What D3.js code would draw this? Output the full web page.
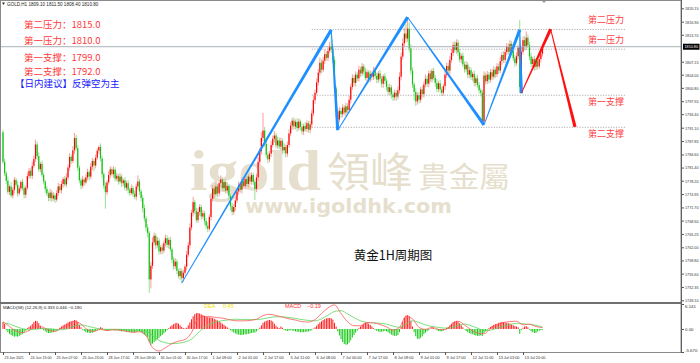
<!DOCTYPE html>
<html>
<head>
<meta charset="utf-8">
<script src="https://cdn.jsdelivr.net/npm/d3@7"></script>
<style>
html, body { margin: 0; padding: 0; background: #fff; }
svg { display: block; }
</style>
</head>
<body>
<div class="graph"></div>
<script>

//chart data (GOLD H1)

var firstOpen = 1790.0;

var closes = [
1782.8,1780.0,1778.2,1775.5,1776.8,1774.6,1776.0,1778.4,1777.2,1775.1,
1776.3,1777.9,1776.4,1774.8,1776.5,1779.3,1780.6,1779.4,1781.8,1783.5,
1787.0,1784.2,1781.0,1782.3,1779.6,1778.0,1776.2,1775.1,1774.0,1775.3,
1773.9,1774.6,1773.6,1775.2,1776.8,1775.9,1777.4,1778.6,1777.3,1779.0,
1781.4,1784.0,1783.0,1785.6,1788.6,1786.1,1781.4,1778.3,1777.0,1778.5,
1777.8,1779.0,1780.3,1779.2,1781.6,1783.0,1781.9,1783.8,1785.5,1786.4,
1783.6,1779.8,1777.0,1775.4,1777.8,1779.6,1781.0,1779.8,1780.9,1778.7,
1779.4,1778.0,1779.2,1777.6,1778.3,1776.5,1777.6,1776.0,1775.2,1776.4,
1775.0,1774.3,1776.8,1778.0,1775.6,1774.0,1771.5,1769.0,1766.8,1765.5,
1754.2,1757.5,1763.2,1764.8,1762.5,1763.6,1761.0,1762.0,1761.2,1763.0,
1764.2,1762.6,1763.8,1761.5,1759.0,1757.4,1758.5,1756.3,1755.0,1756.2,
1754.5,1755.8,1757.3,1760.2,1762.5,1766.8,1770.4,1773.0,1770.8,1768.6,
1770.6,1771.8,1769.5,1770.3,1768.4,1767.2,1766.5,1769.4,1773.8,1776.3,
1774.9,1776.8,1775.1,1777.6,1778.5,1776.4,1777.9,1775.8,1776.9,1774.5,
1772.0,1770.6,1771.8,1773.4,1775.6,1777.2,1776.0,1778.1,1776.9,1778.6,
1777.4,1779.2,1778.0,1779.6,1777.9,1776.2,1779.0,1782.8,1785.4,1788.6,
1790.4,1787.2,1784.5,1783.4,1784.8,1786.9,1788.4,1789.2,1786.8,1788.0,
1786.5,1787.9,1785.6,1786.4,1784.8,1786.9,1789.7,1791.6,1792.8,1791.4,
1792.5,1791.0,1792.6,1791.3,1790.2,1791.5,1790.8,1792.2,1790.6,1791.9,
1794.6,1797.8,1799.6,1802.1,1804.5,1806.9,1805.2,1807.4,1809.0,1808.1,
1809.8,1811.0,1810.2,1807.6,1800.6,1795.0,1793.1,1795.2,1794.4,1796.0,
1794.8,1796.3,1795.4,1797.9,1801.0,1803.2,1802.0,1804.0,1803.1,1805.2,
1804.3,1806.0,1804.8,1803.2,1804.6,1802.9,1804.2,1803.5,1805.0,1803.7,
1802.8,1804.3,1803.0,1801.8,1803.6,1802.5,1801.0,1799.8,1800.9,1799.2,
1798.5,1799.6,1798.7,1800.2,1803.5,1808.4,1811.6,1814.0,1812.8,1815.2,
1810.4,1805.0,1801.6,1799.8,1797.5,1799.0,1797.9,1800.4,1799.3,1801.6,
1803.0,1801.8,1804.3,1802.9,1804.9,1803.2,1802.0,1800.5,1801.9,1800.4,
1799.6,1801.2,1804.0,1806.1,1805.0,1807.6,1809.3,1811.2,1810.0,1811.8,
1809.4,1807.7,1808.6,1806.5,1805.3,1806.4,1804.0,1805.1,1803.4,1804.2,
1802.0,1803.1,1801.5,1800.2,1799.6,1792.6,1803.8,1802.4,1804.0,1802.8,
1804.6,1803.5,1805.2,1804.1,1806.0,1805.0,1807.3,1808.8,1807.6,1809.5,
1810.8,1809.6,1811.5,1809.8,1808.0,1806.8,1808.5,1810.6,1801.0,1809.6,
1812.4,1810.8,1813.0,1811.2,1808.4,1806.6,1807.8,1805.9,1807.3,1806.0,
1807.8,1809.1,1810.8
];

var wickUp = [
0.6,0.8,0.5,0.9,0.4,1.1,0.6,0.7,0.5,0.9,
0.7,0.4,0.8,0.6,0.5,0.9,0.7,0.6,1.0,0.8,
1.2,0.7,0.9,0.5,0.8,0.6,0.4,0.7,0.5,0.9,
0.6,0.8,0.5,0.7,0.9,0.6,0.8,0.5,0.7,1.0,
0.8,0.9,0.6,1.0,1.2,0.7,0.8,0.5,0.6,0.9,
0.5,0.7,0.8,0.6,0.9,0.7,0.5,0.8,0.6,0.4,
0.9,0.7,0.5,0.8,0.6,0.9,0.7,0.5,0.8,0.6,
0.7,0.5,0.9,0.6,0.4,0.8,0.6,0.7,0.5,0.9,
0.6,0.8,0.7,1.5,0.6,0.5,0.7,0.9,0.6,0.8,
0.5,0.9,1.2,0.8,0.6,0.9,0.7,0.5,0.8,0.6,
0.9,0.7,0.6,0.8,0.5,0.7,0.9,0.6,0.5,0.8,
0.6,0.7,0.5,0.9,0.8,1.0,0.7,1.3,0.6,0.8,
0.9,0.7,0.6,0.8,0.5,0.7,0.9,0.6,1.0,0.8,
0.7,0.9,0.6,0.8,1.0,0.5,0.7,0.6,0.9,0.5,
0.6,0.8,0.7,0.9,0.5,0.8,0.6,0.9,0.7,0.6,
0.8,0.6,0.9,0.7,0.5,0.6,0.9,1.1,0.8,1.4,
4.3,0.9,0.7,0.8,0.6,1.0,0.8,1.1,0.6,0.9,
0.7,0.8,0.6,0.9,0.5,0.8,1.0,0.9,0.7,0.8,
0.6,0.9,0.7,0.5,0.8,0.6,0.9,0.7,0.5,0.8,
0.9,1.2,0.8,1.0,0.9,1.3,0.8,0.9,1.1,0.7,
0.9,1.0,2.4,0.8,0.9,0.7,0.6,0.9,0.7,0.8,
0.6,0.9,0.7,1.0,0.8,0.9,0.7,0.8,0.6,1.0,
0.7,0.8,0.6,0.9,0.7,0.5,0.8,0.6,0.9,0.7,
0.8,0.6,0.9,0.7,0.5,0.8,0.6,0.7,0.9,0.6,
0.7,0.8,0.6,0.9,1.1,1.0,1.2,1.4,2.4,2.8,
1.5,1.0,0.8,0.6,0.9,0.7,0.8,0.6,0.9,0.7,
1.0,0.8,0.7,0.9,0.6,0.8,0.7,0.9,0.6,0.8,
0.7,0.6,0.9,0.8,0.7,0.9,1.0,0.8,0.9,0.8,
0.7,0.9,0.6,0.8,0.7,0.9,0.6,0.8,0.7,0.5,
0.8,0.6,0.9,0.7,0.5,0.8,1.0,0.7,0.9,0.6,
0.8,0.7,0.9,0.6,0.8,0.7,1.0,0.8,0.9,0.7,
0.9,0.8,1.0,0.7,0.6,0.8,0.9,0.7,6.7,1.2,
0.9,1.0,1.5,0.8,0.7,0.9,0.6,0.8,0.7,0.9,
0.8,0.6,0.7
];

var wickDn = [
0.5,0.7,0.9,0.6,0.8,0.5,0.7,0.9,0.6,0.8,
0.5,0.7,0.6,0.9,0.8,0.5,0.7,0.6,0.8,0.5,
0.7,0.9,0.6,0.8,0.5,0.7,0.9,0.6,0.8,0.7,
0.9,0.6,0.8,0.5,0.7,0.6,0.8,0.9,0.5,0.7,
0.6,0.8,0.7,0.5,0.9,0.6,0.8,0.7,0.9,0.6,
0.8,0.5,0.7,0.9,0.6,0.8,1.4,0.7,0.5,0.8,
0.7,0.9,0.8,4.0,0.7,0.6,0.8,0.5,0.9,0.7,
0.6,0.8,0.5,0.9,0.7,0.6,0.8,0.9,0.7,0.5,
0.8,0.6,0.9,0.7,0.8,0.9,1.0,0.8,0.9,1.1,
3.3,2.2,0.8,0.7,0.9,0.6,0.8,0.7,0.9,0.6,
0.8,0.7,0.9,0.6,0.8,0.9,0.7,0.8,0.6,0.9,
1.2,0.8,0.7,0.9,0.6,0.8,0.7,0.9,0.8,0.6,
0.7,0.9,0.8,0.6,0.9,0.7,0.8,0.6,0.9,0.7,
0.8,0.6,0.9,0.7,0.8,0.6,0.9,0.7,0.8,0.9,
1.0,0.8,0.7,0.9,0.6,0.8,0.7,0.9,0.6,0.8,
0.7,0.9,0.6,0.8,0.7,2.7,0.8,0.9,0.7,0.8,
0.9,0.7,0.8,1.0,0.7,0.8,0.6,0.9,0.7,0.8,
0.6,0.9,0.8,0.7,1.0,0.8,0.6,0.7,0.9,0.8,
0.7,0.9,0.6,0.8,0.7,0.9,0.6,0.8,0.7,0.9,
0.8,0.7,0.9,0.6,0.8,0.7,0.9,0.6,0.8,0.7,
0.8,0.6,0.9,0.8,1.0,1.2,1.3,0.7,0.9,0.8,
0.7,0.9,0.8,0.6,0.9,0.7,0.8,0.9,0.7,0.8,
0.9,0.7,0.8,0.6,0.9,0.8,0.7,0.9,0.8,0.7,
0.9,0.8,0.7,0.9,1.0,0.8,0.9,0.7,0.8,1.0,
0.9,0.8,1.0,0.7,0.8,0.9,0.7,0.8,0.9,0.8,
1.0,0.9,0.8,2.0,1.1,0.8,0.9,0.7,0.8,0.9,
0.7,0.8,0.9,0.7,0.8,0.6,0.9,0.8,0.7,0.9,
0.8,0.7,0.9,0.8,0.6,0.9,0.7,0.8,0.6,0.9,
0.8,0.7,0.9,0.6,0.8,0.7,0.9,0.8,0.7,0.9,
0.8,0.9,0.7,0.8,0.9,1.0,0.6,0.8,0.7,0.9,
0.7,0.8,0.6,0.9,0.7,0.8,0.6,0.9,0.7,0.8,
0.8,0.7,0.9,0.8,0.7,0.9,0.6,0.8,1.4,0.8,
0.7,0.9,0.8,0.7,0.9,0.8,0.7,0.9,0.8,0.7,
0.6,0.8,0.7
];

// MACD histogram, one value per bar
var histVals = [
1.7,1.2,-0.3,-0.8,-1.2,-1.5,-1.7,-1.9,-1.8,-1.9,
-1.7,-1.5,-1.2,-0.8,-0.4,0.2,0.5,0.8,1.2,1.7,
2.0,1.9,1.4,0.8,0.2,-0.3,-0.6,-0.9,-1.0,-1.0,
-0.9,-0.8,-0.6,-0.4,-0.1,0.3,0.6,0.9,1.1,1.3,
1.6,1.8,1.9,2.0,2.2,2.1,1.7,1.0,0.4,-0.2,
-0.5,-0.8,-0.9,-1.0,-1.0,-0.9,-0.7,-0.5,-0.3,0.1,
0.4,0.3,-0.1,-0.4,-0.5,-0.4,-0.3,-0.2,-0.3,-0.4,
-0.3,-0.4,-0.5,-0.6,-0.5,-0.6,-0.7,-0.7,-0.8,-0.8,
-0.9,-0.9,-0.7,-0.5,-0.6,-0.8,-1.1,-1.4,-1.7,-2.0,
-3.2,-3.9,-3.6,-3.2,-2.9,-2.5,-2.2,-1.8,-1.5,-1.1,
-0.7,-0.3,0.2,0.6,0.9,1.2,1.4,1.5,1.3,0.9,
0.5,0.2,0.1,0.3,0.9,1.6,2.4,3.1,3.6,3.9,
3.9,3.8,3.6,3.4,3.2,3.0,2.9,2.8,2.8,2.7,
2.5,2.3,2.1,1.9,1.6,1.3,1.0,0.7,0.4,0.1,
-0.3,-0.6,-0.9,-1.1,-1.3,-1.4,-1.5,-1.5,-1.4,-1.3,
-1.3,-1.2,-1.1,-1.0,-0.9,-0.9,-0.6,-0.2,0.3,0.9,
1.5,1.8,2.0,2.1,2.2,2.1,1.8,1.3,0.8,0.4,
0.2,0.6,0.3,-0.2,-0.4,-0.5,-0.4,-0.3,-0.4,-0.5,
-0.6,-0.7,-0.7,-0.8,-0.8,-0.8,-0.7,-0.7,-0.6,-0.5,
-0.3,0.1,0.4,0.8,1.2,1.6,1.9,2.2,2.4,2.6,
2.7,2.7,2.6,2.3,1.5,0.6,-0.6,-1.6,-2.5,-3.2,
-3.7,-3.9,-3.8,-3.4,-2.8,-2.1,-1.5,-0.9,-0.4,0.2,
0.6,1.0,1.3,1.5,1.5,1.3,1.0,0.6,0.2,-0.2,
-0.5,-0.6,-0.7,-0.7,-0.6,-0.5,-0.6,-0.8,-1.1,-1.4,
-1.6,-1.7,-1.7,-1.5,-0.8,0.6,1.8,2.8,3.3,3.4,
3.1,2.0,0.6,-0.8,-1.8,-2.4,-2.5,-2.2,-1.8,-1.3,
-0.9,-0.6,-0.3,0.1,0.3,0.2,-0.1,-0.3,-0.5,-0.6,
-0.6,-0.4,-0.1,0.3,0.5,0.9,1.3,1.7,1.9,2.0,
1.8,1.4,0.9,0.4,-0.1,-0.5,-0.8,-1.0,-1.2,-1.3,
-1.5,-1.6,-1.7,-1.7,-1.6,-1.7,-1.0,-0.6,-0.2,0.2,
0.5,0.8,1.0,1.2,1.3,1.5,1.6,1.7,1.7,1.6,
1.5,1.4,1.3,1.1,0.9,0.7,0.6,0.4,-1.2,-0.3,
0.3,0.6,0.7,0.4,-0.2,-0.6,-0.8,-1.0,-1.0,-0.6,
-0.4,-0.3,-0.19
];

// MACD lines, read every lineStep bars
var lineStep = 4;
var difVals = [
1.8,0.6,-0.5,-0.9,-0.4,0.6,0.5,-0.3,-0.6,0.2,
1.0,1.9,1.2,-0.2,-0.6,-0.1,-0.4,-0.2,-0.3,-0.6,
-0.8,-0.7,-1.6,-4.6,-5.4,-4.6,-3.6,-3.0,-2.6,-0.9,
2.6,3.1,3.0,2.8,2.6,2.2,2.0,2.0,2.1,2.4,
3.3,3.6,3.3,2.9,2.5,2.2,1.8,1.7,2.3,3.8,
5.2,5.9,3.8,1.8,0.8,0.8,1.6,1.5,1.1,0.5,
-0.3,0.4,3.1,2.5,0.4,-0.1,0.4,-0.1,-0.2,1.0,
1.9,1.0,-0.2,-1.0,-1.2,0.2,1.0,1.6,1.8,1.9,
1.0,1.2,0.6,0.333
];
var deaVals = [
1.5,1.2,0.6,0.1,-0.2,-0.1,0.1,0.1,-0.1,-0.2,
0.1,0.7,1.0,0.7,0.3,0.0,-0.1,-0.1,-0.1,-0.2,
-0.4,-0.5,-0.6,-1.6,-2.8,-3.4,-3.6,-3.5,-3.2,-2.5,
-1.0,0.4,1.3,1.8,2.1,2.3,2.4,2.3,2.3,2.3,
2.5,2.8,3.0,3.0,2.8,2.6,2.3,2.1,2.0,2.5,
3.4,4.3,4.5,3.7,2.8,2.0,1.6,1.5,1.4,1.2,
0.7,0.4,1.2,2.0,1.6,1.0,0.6,0.4,0.2,0.3,
0.9,1.2,0.8,0.2,-0.4,-0.3,0.2,0.7,1.1,1.4,
1.3,1.1,0.9,0.446
];

var priceTicks = [1820.15,1816.90,1813.70,1807.15,1804.00,1800.80,1797.55,1794.40,1791.10,
	1787.85,1784.60,1781.40,1778.20,1774.95,1771.70,1768.50,1765.25,1762.00,1758.80,
	1755.60,1752.35,1749.10];

var macdTicks = [6.141, 0, -5.67];
var macdTickLabels = ["6.141", "0.00", "-5.670"];

var timeStep = 16;
var timeLabels = ["23 Jun 2021","24 Jun 15:00","25 Jun 07:00","25 Jun 23:00","28 Jun 17:00",
	"29 Jun 09:00","30 Jun 01:00","30 Jun 17:00","1 Jul 09:00","2 Jul 01:00","2 Jul 17:00",
	"5 Jul 11:00","6 Jul 08:00","7 Jul 00:00","7 Jul 17:00","8 Jul 09:00","9 Jul 01:00",
	"9 Jul 17:00","12 Jul 11:00","13 Jul 03:00","13 Jul 20:00"];

var levelNames = ["第二压力", "第一压力", "第一支撑", "第二支撑"];
var levelTexts = ["1815.0", "1810.0", "1799.0", "1792.0"];
var levelLines = [1815.0, 1810.2, 1799.0, 1791.2];
var levelFrom = 190, levelTo = 383, levelLabelAt = 360;
var adviceText = "【日内建议】反弹空为主";
var chartTitle = "黄金1H周期图";

// zigzag drawings: [bar index, price]
var zigBlue = [[110,1753.3],[202,1814.9],[206,1790.5],[249,1818.0],[296,1791.8],[318,1814.9],[319,1799.5]];
var zigRed = [[319,1799.5],[337,1815.1],[352,1791.3]];

//prepare SVG

var svgWidth = 700;
var svgHeight = 363;
var axisLeft = 681;
var mainBottom = 302;
var macdTop = 304;
var macdBottom = 352;

var svg = d3.select("div.graph")
	.append("svg")
	.attr("width", svgWidth)
	.attr("height", svgHeight)
	.style("background-color", "#ffffff");

var x = d3.scaleLinear().domain([0, 320]).range([3, 523]);
var y = d3.scaleLinear().domain([1748.69, 1822.17]).range([mainBottom, 0]);
var ym = d3.scaleLinear().domain([-5.67, 6.141]).range([macdBottom, macdTop]);

svg.append("defs").append("clipPath").attr("id", "clipMain")
	.append("rect").attr("x", 0).attr("y", 0).attr("width", axisLeft).attr("height", mainBottom);

var bars = closes.map(function(c, i) {
	var o = i ? closes[i - 1] : firstOpen;
	return {i: i, o: o, c: c, h: Math.max(o, c) + wickUp[i], l: Math.min(o, c) - wickDn[i]};
});

//watermark

var gMark = svg.append("g").attr("fill", "#e6dfcd");
gMark.append("text").attr("x", 190).attr("y", 190)
	.attr("font-family", "Liberation Serif").attr("font-weight", "bold").attr("font-size", 56)
	.attr("textLength", 131).attr("lengthAdjust", "spacingAndGlyphs").text("igold");
gMark.append("text").attr("x", 327).attr("y", 187)
	.attr("font-family", "Noto Sans CJK TC").attr("font-size", 41)
	.attr("textLength", 86).attr("lengthAdjust", "spacingAndGlyphs").text("領峰");
gMark.append("text").attr("x", 418).attr("y", 188)
	.attr("font-family", "Noto Sans CJK TC").attr("font-size", 29)
	.attr("textLength", 92).attr("lengthAdjust", "spacingAndGlyphs").text("貴金屬");
gMark.append("text").attr("x", 245).attr("y", 213)
	.attr("font-family", "DejaVu Sans").attr("font-weight", "bold").attr("font-size", 19)
	.attr("textLength", 207).attr("lengthAdjust", "spacingAndGlyphs").text("www.igoldhk.com");

//candles

var gCandles = svg.append("g").attr("clip-path", "url(#clipMain)");

gCandles.selectAll("line.wick")
	.data(bars)
	.enter()
	.append("line")
	.attr("class", "wick")
	.attr("x1", function(d) { return x(d.i); })
	.attr("x2", function(d) { return x(d.i); })
	.attr("y1", function(d) { return y(d.h); })
	.attr("y2", function(d) { return y(d.l); })
	.attr("stroke", function(d) { return d.c >= d.o ? "#ff9c9c" : "#94e294"; })
	.attr("stroke-width", 1);

gCandles.selectAll("rect.body")
	.data(bars)
	.enter()
	.append("rect")
	.attr("class", "body")
	.attr("x", function(d) { return x(d.i) - 0.6; })
	.attr("width", 1.2)
	.attr("y", function(d) { return y(Math.max(d.o, d.c)); })
	.attr("height", function(d) { return Math.max(1, y(Math.min(d.o, d.c)) - y(Math.max(d.o, d.c))); })
	.attr("fill", function(d) { return d.c >= d.o ? "#ff0000" : "#10c010"; });

//current price line

var lastBar = bars[bars.length - 1];
svg.append("line")
	.attr("x1", 0).attr("x2", axisLeft)
	.attr("y1", y(lastBar.c)).attr("y2", y(lastBar.c))
	.attr("stroke", "#a8b0b8").attr("stroke-width", 1);

//levels

var gLevels = svg.append("g");
levelLines.forEach(function(p, k) {
	gLevels.append("line")
		.attr("x1", x(levelFrom)).attr("x2", x(levelTo))
		.attr("y1", y(p)).attr("y2", y(p))
		.attr("stroke", "#9a9a9a").attr("stroke-width", 0.8)
		.attr("stroke-dasharray", "1.2,1.4");
	gLevels.append("text")
		.attr("x", x(levelLabelAt))
		.attr("y", y(p) + (k < 2 ? -6 : 10))
		.attr("font-family", "Noto Sans CJK SC").attr("font-size", 9)
		.attr("fill", "#ff4040").text(levelNames[k]);
});

//zigzag arrows

function taper(p0, p1, w0, w1) {
	var dx = p1[0] - p0[0], dy = p1[1] - p0[1], len = Math.sqrt(dx * dx + dy * dy);
	var nx = -dy / len, ny = dx / len;
	return [[p0[0] + nx * w0 / 2, p0[1] + ny * w0 / 2], [p1[0] + nx * w1 / 2, p1[1] + ny * w1 / 2],
		[p1[0] - nx * w1 / 2, p1[1] - ny * w1 / 2], [p0[0] - nx * w0 / 2, p0[1] - ny * w0 / 2]];
}

function drawZig(pts, color) {
	for (var k = 0; k < pts.length - 1; k++) {
		var p0 = [x(pts[k][0]), y(pts[k][1])];
		var p1 = [x(pts[k + 1][0]), y(pts[k + 1][1])];
		svg.append("path")
			.attr("d", d3.line()(taper(p0, p1, 0.9, 3.2)) + "Z")
			.attr("fill", color);
	}
}
drawZig(zigBlue, "#1e8fff");
drawZig(zigRed, "#ff1010");

//text block

var gNote = svg.append("g").attr("font-family", "Noto Sans CJK SC").attr("font-size", 9.5);
var noteY = [27.5, 44, 60.5, 74.5];
levelNames.forEach(function(n, k) {
	gNote.append("text").attr("x", 24).attr("y", noteY[k])
		.attr("fill", "#ff3a3a").text(n + "：" + levelTexts[k]);
});
gNote.append("text").attr("x", 15).attr("y", 87).attr("fill", "#2020ff").text(adviceText);

svg.append("text").attr("x", 393).attr("y", 260).attr("text-anchor", "middle")
	.attr("font-family", "Noto Sans CJK SC").attr("font-size", 12.5).attr("fill", "#111")
	.text(chartTitle);

//header

var hdr = "GOLD,H1  " + [lastBar.o, lastBar.h, lastBar.l, lastBar.c].map(d3.format(".2f")).join(" ");
svg.append("path").attr("d", "M2,2.5L5,2.5L3.5,5Z").attr("fill", "#333");
svg.append("text").attr("x", 7).attr("y", 5.5)
	.attr("font-family", "Liberation Sans").attr("font-size", 4.6).attr("fill", "#222")
	.text(hdr);
svg.append("path").attr("d", "M541.5,0.5L546.5,0.5L544,3Z").attr("fill", "#9aa0a8");

//MACD panel

var gMacd = svg.append("g");
gMacd.selectAll("line.hist")
	.data(histVals)
	.enter()
	.append("line")
	.attr("x1", function(d, i) { return x(i); })
	.attr("x2", function(d, i) { return x(i); })
	.attr("y1", ym(0))
	.attr("y2", function(d) { return ym(d); })
	.attr("stroke", function(d) { return d >= 0 ? "#ff1a1a" : "#18c818"; })
	.attr("stroke-width", 1);

var macdLine = d3.line()
	.x(function(d, k) { return x(k * lineStep); })
	.y(function(d) { return ym(d); })
	.curve(d3.curveMonotoneX);

gMacd.append("path").attr("d", macdLine(deaVals))
	.attr("fill", "none").attr("stroke", "#5ad65a").attr("stroke-width", 0.8);
gMacd.append("path").attr("d", macdLine(difVals))
	.attr("fill", "none").attr("stroke", "#ff5a5a").attr("stroke-width", 0.8);

var gMacdText = svg.append("g").attr("font-family", "Liberation Sans").attr("font-size", 5.5);
gMacdText.append("text").attr("x", 3).attr("y", 308.5).attr("font-size", 4.4).attr("fill", "#222")
	.text("MACD(58) (12,26,9) " + d3.format(".3f")(difVals[difVals.length - 1]) + " " +
		d3.format(".3f")(deaVals[deaVals.length - 1]) + " " + d3.format(".3f")(histVals[histVals.length - 1]));
gMacdText.append("text").attr("x", 204).attr("y", 307.5).attr("fill", "#f2e200").text("DEA");
gMacdText.append("text").attr("x", 223).attr("y", 307.5).attr("fill", "#f2e200")
	.text(d3.format(".2f")(deaVals[deaVals.length - 1]));
gMacdText.append("text").attr("x", 285).attr("y", 307.5).attr("fill", "#ff3030").text("MACD");
gMacdText.append("text").attr("x", 307).attr("y", 307.5).attr("fill", "#ff3030")
	.text(d3.format(".2f")(histVals[histVals.length - 1]));

//frame

svg.append("rect").attr("x", 0.5).attr("y", 0.5).attr("width", axisLeft - 0.5).attr("height", macdBottom)
	.attr("fill", "none").attr("stroke", "#8a8a8a").attr("stroke-width", 1);
svg.append("line").attr("x1", 0).attr("x2", axisLeft).attr("y1", mainBottom + 1).attr("y2", mainBottom + 1)
	.attr("stroke", "#707070").attr("stroke-width", 2);

//axes

var axisPrice = d3.axisRight(y)
	.tickValues(priceTicks)
	.tickSize(3)
	.tickFormat(d3.format(".2f"));

var gAxisY = svg.append("g").attr("transform", "translate(" + axisLeft + ",0)").call(axisPrice);
gAxisY.select(".domain").remove();
gAxisY.selectAll("line").attr("stroke", "#555");
gAxisY.selectAll("text").attr("x", 4).attr("font-size", 4.4).attr("font-family", "Liberation Sans")
	.attr("fill", "#333").attr("textLength", 13.5).attr("lengthAdjust", "spacingAndGlyphs");

var axisMacd = d3.axisRight(ym)
	.tickValues(macdTicks)
	.tickSize(3)
	.tickFormat(function(d, i) { return macdTickLabels[i]; });
var gAxisM = svg.append("g").attr("transform", "translate(" + axisLeft + ",0)").call(axisMacd);
gAxisM.select(".domain").remove();
gAxisM.selectAll("line").attr("stroke", "#555");
gAxisM.selectAll("text").attr("x", 4).attr("font-size", 4.4).attr("font-family", "Liberation Sans")
	.attr("fill", "#333");
gAxisM.selectAll(".tick").filter(function(d, i) { return i === 0; }).select("text").attr("dy", "0.9em");
gAxisM.selectAll(".tick").filter(function(d, i) { return i === 2; }).select("text").attr("dy", "-0.1em");

svg.append("line").attr("x1", axisLeft + 0.5).attr("x2", axisLeft + 0.5).attr("y1", 0).attr("y2", macdBottom)
	.attr("stroke", "#606060").attr("stroke-width", 1);

// current price label
var gPx = svg.append("g");
gPx.append("rect").attr("x", axisLeft + 2).attr("y", y(lastBar.c) - 3).attr("width", 16.5).attr("height", 6)
	.attr("fill", "#000");
gPx.append("text").attr("x", axisLeft + 3.5).attr("y", y(lastBar.c) + 1.6)
	.attr("font-family", "Liberation Sans").attr("font-size", 4.4).attr("fill", "#fff")
	.attr("textLength", 13.5).attr("lengthAdjust", "spacingAndGlyphs")
	.text(d3.format(".2f")(lastBar.c));

var timeTicks = timeLabels.map(function(t, k) { return k * timeStep; });
var axisTime = d3.axisBottom(x)
	.tickValues(timeTicks)
	.tickSize(3)
	.tickFormat(function(d, i) { return timeLabels[i]; });
var gAxisX = svg.append("g").attr("transform", "translate(0," + macdBottom + ")").call(axisTime);
gAxisX.select(".domain").remove();
gAxisX.selectAll("line").attr("stroke", "#555");
gAxisX.selectAll("text").attr("text-anchor", "start").attr("x", 1).attr("y", 4).attr("dy", "0.71em")
	.attr("font-size", 4.4).attr("font-family", "Liberation Sans").attr("fill", "#333")
	.attr("textLength", function(d, i) { return timeLabels[i].length * 1.75; })
	.attr("lengthAdjust", "spacingAndGlyphs");

</script>
</body>
</html>
